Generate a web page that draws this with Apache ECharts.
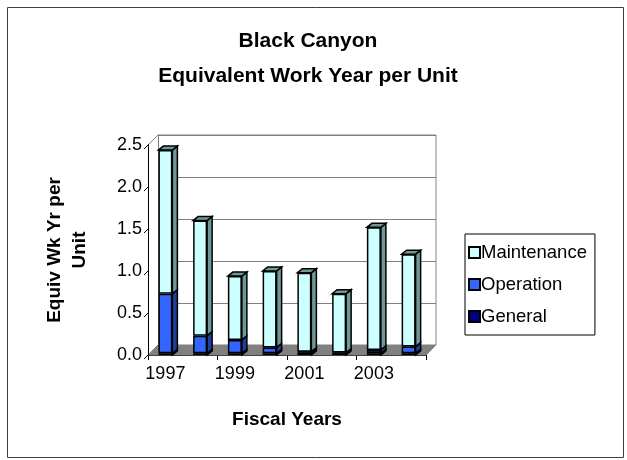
<!DOCTYPE html>
<html>
<head>
<meta charset="utf-8">
<script src="https://cdn.jsdelivr.net/npm/echarts@6/dist/echarts.min.js"></script>
<style>
html,body{margin:0;padding:0;background:#fff;}
#chart{width:627px;height:460px;}
</style>
</head>
<body>
<div id="chart"></div>
<script>
const years = ['1997','1998','1999','2000','2001','2002','2003','2004'];
const general = [0.02, 0.02, 0.02, 0.02, 0.03, 0.02, 0.02, 0.02];
const operation = [0.71, 0.21, 0.16, 0.07, 0.01, 0.01, 0.04, 0.08];
const maintenance = [1.71, 1.37, 0.76, 0.91, 0.94, 0.70, 1.46, 1.10];
const yMin = 0, yMax = 2.5, yInterval = 0.5;

const colors = { Maintenance: '#CCFFFF', Operation: '#3366FF', General: '#000080' };
const sideColors = { Maintenance: '#6F9999', Operation: '#1F3F9F', General: '#00004D' };
const FONT = 'Liberation Sans, Arial, sans-serif';
const DX = 10, DY = 10;      // wall depth
const BDX = 5, BDY = 4;      // bar depth
const BAR_W = 14;

const chart = echarts.init(document.getElementById('chart'), null, {renderer: 'canvas'});

const gridFront = {left: 148, right: 201, top: 145, bottom: 105};
const gridBack = {left: 148 + DX, right: 201 - DX, top: 145 - DY, bottom: 105 + DY};

function barSegments(i) {
  return [
    ['General', 0, general[i]],
    ['Operation', general[i], general[i] + operation[i]],
    ['Maintenance', general[i] + operation[i], general[i] + operation[i] + maintenance[i]]
  ];
}

const option = {
  animation: false,
  backgroundColor: '#fff',
  title: {
    text: 'Black Canyon\nEquivalent Work Year per Unit',
    left: 303, top: 19, textAlign: 'center',
    textStyle: {fontFamily: FONT, fontSize: 21, fontWeight: 'bold', color: '#000', lineHeight: 35}
  },
  legend: {
    data: ['Maintenance', 'Operation', 'General'],
    orient: 'vertical', left: 465, top: 234,
    itemWidth: 11, itemHeight: 11, itemGap: 13,
    padding: [9, 8, 9, 3],
    borderColor: '#000', borderWidth: 1,
    icon: 'rect',
    textStyle: {fontFamily: FONT, fontSize: 18.5, color: '#000', padding: [0, 0, 0, -4]}
  },
  grid: [gridFront, gridBack],
  xAxis: [
    {
      type: 'category', data: years, gridIndex: 0,
      axisLine: {lineStyle: {color: '#000', width: 1}},
      axisTick: {show: true, length: 5, lineStyle: {color: '#000'}},
      axisLabel: {interval: 1, fontFamily: FONT, fontSize: 18, color: '#000', margin: 10},
      name: 'Fiscal Years', nameLocation: 'middle', nameGap: 55,
      nameTextStyle: {fontFamily: FONT, fontSize: 19, fontWeight: 'bold', color: '#000'},
      splitLine: {show: false}
    },
    {
      type: 'category', data: years, gridIndex: 1, show: false
    }
  ],
  yAxis: [
    {
      type: 'value', gridIndex: 0, min: yMin, max: yMax, interval: yInterval,
      axisLine: {show: true, lineStyle: {color: '#000'}},
      axisTick: {show: false},
      axisLabel: {fontFamily: FONT, fontSize: 18, color: '#000', margin: 6,
        formatter: v => v.toFixed(1)},
      splitLine: {show: false},
      name: 'Equiv Wk Yr per\nUnit', nameLocation: 'middle', nameGap: 56,
      nameTextStyle: {fontFamily: FONT, fontSize: 19, fontWeight: 'bold', color: '#000', lineHeight: 25}
    },
    {
      type: 'value', gridIndex: 1, min: yMin, max: yMax, interval: yInterval,
      axisLine: {show: true, lineStyle: {color: '#808080'}},
      axisTick: {show: false}, axisLabel: {show: false},
      splitLine: {show: true, lineStyle: {color: '#808080', width: 1}}
    }
  ],
  series: [
    {
      type: 'custom', name: 'walls', xAxisIndex: 0, yAxisIndex: 0,
      data: [[0]], z: 1, silent: true,
      renderItem: function (params, api) {
        const cs = params.coordSys;
        const x0 = cs.x, y0 = cs.y + cs.height, x1 = cs.x + cs.width, yt = cs.y;
        const children = [];
        children.push({type: 'polygon', shape: {points: [[x0, y0], [x1, y0], [x1 + DX, y0 - DY], [x0 + DX, y0 - DY]]},
          style: {fill: '#808080', stroke: '#808080'}});
        children.push({type: 'polyline', shape: {points: [[x0 + DX, yt - DY], [x1 + DX, yt - DY], [x1 + DX, y0 - DY]]},
          style: {fill: null, stroke: '#808080', lineWidth: 1}});
        children.push({type: 'line', shape: {x1: x0, y1: yt, x2: x0 + DX, y2: yt - DY},
          style: {stroke: '#808080', lineWidth: 1}});
        for (let v = yMin; v <= yMax + 1e-9; v += yInterval) {
          const p = api.coord([0, v]);
          children.push({type: 'line', shape: {x1: x0 - 4, y1: p[1] + 4, x2: x0 + 1, y2: p[1] - 1},
            style: {stroke: '#000', lineWidth: 1}});
        }
        return {type: 'group', children: children};
      }
    },
    {
      name: 'General', type: 'bar', stack: 'total', barWidth: BAR_W, data: general, z: 3,
      itemStyle: {color: colors.General, borderColor: '#000', borderWidth: 1.5}
    },
    {
      name: 'Operation', type: 'bar', stack: 'total', barWidth: BAR_W, data: operation, z: 3,
      itemStyle: {color: colors.Operation, borderColor: '#000', borderWidth: 1.5}
    },
    {
      name: 'Maintenance', type: 'bar', stack: 'total', barWidth: BAR_W, data: maintenance, z: 3,
      itemStyle: {color: colors.Maintenance, borderColor: '#000', borderWidth: 1.5}
    },
    {
      type: 'custom', name: 'faces', xAxisIndex: 0, yAxisIndex: 0, z: 4, silent: true,
      data: years.map((y, i) => [i]),
      renderItem: function (params, api) {
        const i = api.value(0);
        const children = [];
        const segs = barSegments(i);
        segs.forEach(function (s, k) {
          const pb = api.coord([i, s[1]]);
          const pt = api.coord([i, s[2]]);
          const xl = pb[0] - BAR_W / 2, xr = pb[0] + BAR_W / 2;
          children.push({type: 'polygon',
            shape: {points: [[xr, pb[1]], [xr, pt[1]], [xr + BDX, pt[1] - BDY], [xr + BDX, pb[1] - BDY]]},
            style: {fill: sideColors[s[0]], stroke: '#000', lineWidth: 1.5}});
          if (k === segs.length - 1) {
            children.push({type: 'polygon',
              shape: {points: [[xl, pt[1]], [xr, pt[1]], [xr + BDX, pt[1] - BDY], [xl + BDX, pt[1] - BDY]]},
              style: {fill: sideColors[s[0]], stroke: '#000', lineWidth: 1.5}});
          }
        });
        return {type: 'group', children: children};
      }
    }
  ],
  graphic: [{
    type: 'rect', left: 5, top: 5, silent: true, z: -10,
    shape: {width: 616, height: 450},
    style: {fill: null, stroke: '#404040', lineWidth: 1}
  }]
};
chart.setOption(option);
</script>
</body>
</html>
